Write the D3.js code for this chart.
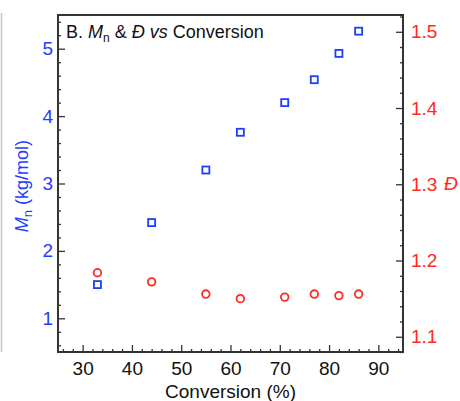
<!DOCTYPE html>
<html>
<head>
<meta charset="utf-8">
<script src="https://cdn.jsdelivr.net/npm/d3@7"></script>
<style>
  body { margin: 0; background: #fff; }
  svg text { font-family: "Liberation Sans", Arial, sans-serif; }
</style>
</head>
<body>
<svg id="chart" width="460" height="401"></svg>
<script>
// conversion (%) for each sample
var conversion = [33, 44, 55, 62, 71, 77, 82, 86];
// Mn in kg/mol (blue squares, left axis)
var mn = [1.50, 2.42, 3.20, 3.76, 4.20, 4.54, 4.93, 5.26];
// dispersity (red circles, right axis)
var disp = [1.184, 1.172, 1.156, 1.150, 1.152, 1.156, 1.154, 1.156];

var xTicks = [30, 40, 50, 60, 70, 80, 90];
var mnTicks = [1, 2, 3, 4, 5];
var dispTicks = [1.1, 1.2, 1.3, 1.4, 1.5];

var blue = "#1f3dff", red = "#ff2a22", axisCol = "#333";

var svg = d3.select("#chart");
var pLeft = 58, pRight = 403, pTop = 15, pBottom = 352;

var x = d3.scaleLinear().domain([25, 95]).range([pLeft, pRight]);
var yL = d3.scaleLinear().domain([0.5, 5.5]).range([pBottom, pTop]);
var yR = d3.scaleLinear().domain([1.08, 1.522]).range([pBottom, pTop]);

// faint page border at the left
svg.append("line")
  .attr("x1", 1.5).attr("x2", 1.5).attr("y1", 13).attr("y2", 352)
  .attr("stroke", "#c8c8c8").attr("stroke-width", 1.5);

// x axis: major + minor ticks pointing inward
var xMinor = d3.range(26, 95, 2).filter(function(v){ return v % 10 !== 0; });
var gx = svg.append("g").attr("transform", "translate(0," + pBottom + ")");
gx.call(d3.axisBottom(x).tickValues(xMinor).tickSize(-3).tickFormat(""));
gx.append("g").call(d3.axisBottom(x).tickValues(xTicks).tickSize(-7).tickPadding(10).tickFormat(d3.format("d")));
gx.selectAll("path.domain").remove();
gx.selectAll("line").attr("stroke", axisCol).attr("stroke-width", 1.3);
gx.selectAll("text").attr("font-size", 19).attr("fill", "#111");

// left axis
var mnMinor = d3.range(0.6, 5.5, 0.2).filter(function(v){ return Math.abs(v - Math.round(v)) > 0.01; });
var gl = svg.append("g").attr("transform", "translate(" + pLeft + ",0)");
gl.call(d3.axisLeft(yL).tickValues(mnMinor).tickSize(-3).tickFormat(""));
gl.append("g").call(d3.axisLeft(yL).tickValues(mnTicks).tickSize(-7).tickPadding(5).tickFormat(d3.format("d")));
gl.selectAll("path.domain").remove();
gl.selectAll("line").attr("stroke", axisCol).attr("stroke-width", 1.3);
gl.selectAll("text").attr("font-size", 19).attr("fill", blue);

// right axis
var dMinor = d3.range(1.08, 1.521, 0.02).filter(function(v){ return Math.abs(v * 10 - Math.round(v * 10)) > 0.01; });
var gr = svg.append("g").attr("transform", "translate(" + pRight + ",0)");
gr.call(d3.axisRight(yR).tickValues(dMinor).tickSize(-3).tickFormat(""));
gr.append("g").call(d3.axisRight(yR).tickValues(dispTicks).tickSize(-7).tickPadding(8).tickFormat(d3.format(".1f")));
gr.selectAll("path.domain").remove();
gr.selectAll("line").attr("stroke", axisCol).attr("stroke-width", 1.3);
gr.selectAll("text").attr("font-size", 19).attr("fill", red);

// frame
svg.append("rect")
  .attr("x", pLeft).attr("y", pTop)
  .attr("width", pRight - pLeft).attr("height", pBottom - pTop)
  .attr("fill", "none").attr("stroke", axisCol).attr("stroke-width", 2);

// data: Mn squares
var pts = conversion.map(function(c, i){ return {c: c, mn: mn[i], d: disp[i]}; });
svg.append("g").selectAll("rect")
  .data(pts).enter().append("rect")
  .attr("x", function(d){ return x(d.c) - 3.5; })
  .attr("y", function(d){ return yL(d.mn) - 3.5; })
  .attr("width", 7).attr("height", 7)
  .attr("fill", "none").attr("stroke", blue).attr("stroke-width", 1.8);

// data: dispersity circles
svg.append("g").selectAll("circle")
  .data(pts).enter().append("circle")
  .attr("cx", function(d){ return x(d.c); })
  .attr("cy", function(d){ return yR(d.d); })
  .attr("r", 3.8)
  .attr("fill", "none").attr("stroke", red).attr("stroke-width", 1.8);

// title inside the frame
var title = svg.append("text").attr("x", 66).attr("y", 38).attr("font-size", 18).attr("fill", "#111");
title.append("tspan").text("B. ");
title.append("tspan").attr("font-style", "italic").text("M");
title.append("tspan").attr("font-size", 12).attr("dy", 4).text("n");
title.append("tspan").attr("dy", -4).text(" & ");
title.append("tspan").attr("font-style", "italic").text("Đ");
title.append("tspan").attr("font-style", "italic").text(" vs");
title.append("tspan").text(" Conversion");

// axis titles
svg.append("text")
  .attr("x", x(60)).attr("y", 398)
  .attr("text-anchor", "middle").attr("font-size", 19).attr("fill", "#111")
  .text("Conversion (%)");

var yt = svg.append("text")
  .attr("transform", "translate(28,186) rotate(-90)")
  .attr("text-anchor", "middle").attr("font-size", 18).attr("fill", blue);
yt.append("tspan").attr("font-style", "italic").text("M");
yt.append("tspan").attr("font-size", 13).attr("dy", 4).text("n");
yt.append("tspan").attr("dy", -4).text(" (kg/mol)");

svg.append("text")
  .attr("x", 444).attr("y", 190)
  .attr("font-size", 19).attr("font-style", "italic").attr("fill", red)
  .text("Đ");
</script>
</body>
</html>
